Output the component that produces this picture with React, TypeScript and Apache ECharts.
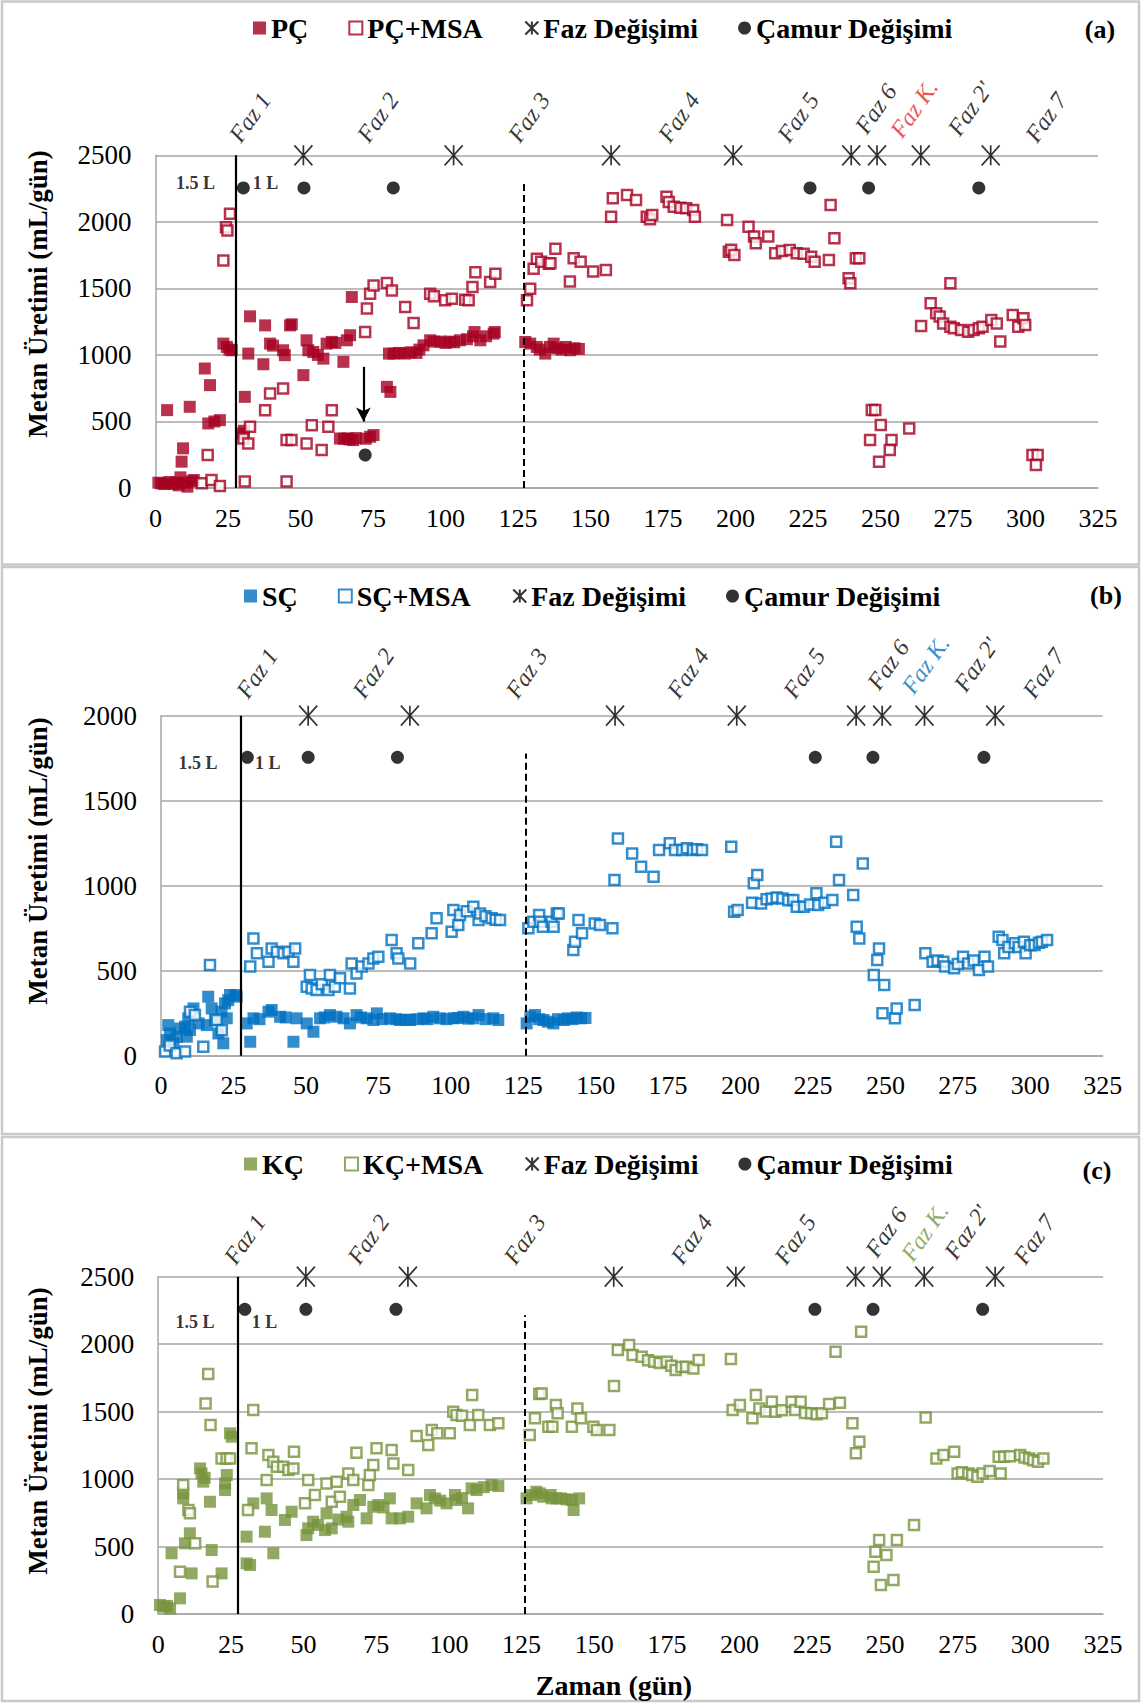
import React, { useEffect, useRef } from "react";
import * as echarts from "echarts";

type Pt = [number, number];

const FONT = "'Liberation Serif', 'Times New Roman', Times, serif";
const RED = "#A50021";
const BLUE = "#0070C0";
const GREEN = "#77933C";
const FAZ_K_RED = "#E3262B";
const GRID_GREY = "#A6A6A6";

// ---------- (a) PÇ reactor: daily methane, mL/day ----------
const pc: Pt[] = [
  [1, 40], [2, 35], [3, 30], [4, 585], [4.8, 45], [6, 30], [7, 40], [8, 20], [8.6, 80], [9, 198], [9.5, 298],
  [10.2, 40], [11, 10], [11.8, 610], [12.5, 50], [13.2, 60], [17, 898], [18.2, 485], [18.8, 773], [20.3, 500],
  [22.2, 510], [23.4, 1085], [24.6, 1060], [25.5, 1040], [26.3, 1035],
  [29.7, 410], [30.5, 430], [30.8, 685], [32, 1010], [32.6, 1290], [37.2, 930], [37.8, 1222], [39.5, 1085],
  [40.5, 1070], [44, 1035], [44.6, 998], [46.4, 1222], [47, 1230], [51, 848], [52.1, 1110], [52.7, 1035],
  [54.4, 1022], [56, 1000], [57.9, 972], [59, 1085], [60.8, 1098], [62, 1090], [64.8, 948], [66, 1110],
  [67.1, 1148], [67.7, 1435], [63.6, 372], [65, 370], [66.2, 372], [67, 365], [68.2, 360], [69.2, 375],
  [72.5, 370], [74, 385], [75.2, 398], [79.8, 760], [81, 722], [80.5, 1010], [82.1, 1010], [84, 1015],
  [86, 1010], [88, 1020], [90, 1015], [91, 1040], [92.4, 1072], [94.7, 1110], [96, 1100], [98.2, 1100],
  [100, 1090], [101.6, 1100], [103, 1095], [105, 1110], [107.4, 1118], [109.5, 1140], [110, 1172], [112, 1110],
  [114, 1140], [116.6, 1160], [117, 1172],
  [127.5, 1097], [129.2, 1085], [131.5, 1060], [132.5, 1040], [134.4, 1010], [136, 1060], [137.3, 1085],
  [138.5, 1050], [140, 1040], [141.5, 1060], [143, 1035], [144.5, 1050], [146, 1045],
];
const pcMsa: Pt[] = [
  [16, 35], [18, 248], [19.3, 60], [22.2, 15], [23.4, 1710], [24.3, 1960], [24.8, 1935], [25.7, 2060],
  [30.3, 372], [30.8, 48], [32, 335], [32.6, 460], [37.8, 585], [39.5, 710], [44, 748], [45.2, 48], [45.2, 360],
  [46.9, 360], [52.1, 335], [53.9, 472], [57.3, 285], [59.6, 460], [60.8, 585], [72.3, 1172], [72.9, 1348],
  [74, 1460], [75.2, 1522], [79.8, 1540], [81.5, 1485], [86.1, 1360], [89, 1240], [94.7, 1460], [96, 1440],
  [99.9, 1410], [102.2, 1422], [106.8, 1415], [108, 1410], [109.3, 1510], [110.3, 1622], [115.4, 1548], [117.2, 1610],
  [128.1, 1410], [129.2, 1498], [130.4, 1648], [131.5, 1722], [133, 1700], [135.6, 1685], [136.2, 1688],
  [137.9, 1798], [142.9, 1551], [144.2, 1726], [146.6, 1701], [150.9, 1626], [155.3, 1638],
  [157.1, 2039], [157.7, 2177], [162.6, 2202], [165.7, 2164], [169.4, 2039], [170.5, 2020], [171.3, 2052],
  [176.2, 2189], [177, 2150], [178.7, 2114], [181, 2105], [183, 2102], [185.4, 2089], [186, 2039],
  [197.1, 2014], [197.7, 1776], [198.5, 1790], [199.6, 1751], [204.5, 1964], [206.4, 1889], [207, 1839],
  [211.3, 1889], [213.7, 1764], [216, 1780], [218.7, 1789], [221.1, 1764], [223.5, 1760], [226.1, 1738],
  [227.3, 1701], [232.2, 1713], [232.8, 2127], [234.1, 1876], [239, 1576], [239.6, 1538], [241.5, 1726], [242.7, 1726],
  [247, 586], [248.2, 586], [250.1, 473], [246.4, 361], [253.8, 361], [253.2, 286], [249.5, 198], [259.9, 448],
  [264, 1217], [267.3, 1388], [269.2, 1313], [270.4, 1288], [271.6, 1237], [274.1, 1538], [274.1, 1212],
  [275.3, 1200], [277.8, 1187], [280.2, 1175], [282.1, 1187], [283.9, 1200], [285.2, 1212], [288.2, 1262],
  [290.1, 1237], [291.3, 1100], [295.6, 1300], [297.5, 1212], [299.3, 1275], [299.9, 1225],
  [302.4, 248], [304.2, 248], [303.6, 173],
];

// ---------- (b) SÇ reactor ----------
const sc: Pt[] = [
  [2, 92], [2.5, 180], [3.1, 131], [4.3, 73], [5.5, 110], [6.5, 160], [8.3, 171], [8.9, 112], [9.4, 220],
  [10, 151], [11.2, 278], [13, 190], [15.8, 180], [16.3, 347], [17.5, 278], [18.6, 210], [19.8, 131],
  [21.5, 73], [20.9, 259], [22.1, 308], [22.7, 220], [23.2, 327], [23.8, 357], [25.5, 357], [26.1, 347],
  [29.6, 190], [30.8, 82], [31.9, 220], [34, 215], [37.1, 259], [38.2, 269], [41.1, 229], [43, 225],
  [45.7, 82], [46.8, 220], [50.3, 190], [52.6, 141], [54.9, 220], [56.5, 225], [58.3, 239], [60.6, 229],
  [63, 220], [65.2, 190], [67.5, 239], [69, 225], [71, 220], [73.3, 210], [74.5, 249], [76.5, 215], [79, 220],
  [81, 215], [82.5, 210], [84.5, 212], [86, 210], [88.5, 215], [90.6, 220], [92, 215], [94, 229], [96.3, 220],
  [98.5, 215], [100.9, 220], [102.5, 222], [104.4, 229], [106, 218], [107.8, 220], [109.6, 239], [112, 215],
  [114.7, 220], [116.4, 210],
  [126.2, 190], [127.5, 230], [129.1, 239], [130.5, 215], [132, 210], [133.5, 200], [135.4, 190], [137, 215],
  [139, 210], [140.5, 220], [142, 215], [143.5, 225], [145, 220], [146.5, 222],
];
const scMsa: Pt[] = [
  [1.4, 24], [3, 60], [5.4, 14], [8.3, 24], [10, 259], [11.7, 239], [14.6, 53], [16.9, 533], [19.2, 210], [21, 150],
  [30.8, 524], [31.9, 690], [33.1, 602], [37.1, 553], [38.2, 631], [40, 612], [42.3, 602], [44, 612],
  [45.7, 553], [46.3, 631], [50.3, 406], [51.4, 474], [52, 396], [53.7, 386], [55.5, 420], [57.8, 386],
  [58.3, 474], [60, 406], [61.8, 455], [65.2, 396], [65.8, 543], [67.5, 484], [69.3, 524], [71.6, 543],
  [73.3, 572], [75, 582], [79.6, 680], [81.3, 602], [81.9, 572], [86, 543], [88.8, 661], [93.4, 720],
  [95.1, 808], [100.3, 729], [100.9, 857], [102.6, 769], [103.2, 827], [105.5, 850], [107.8, 876],
  [109.6, 798], [110.1, 837], [112, 820], [114.1, 808], [115.5, 800], [117, 798],
  [126.8, 749], [128.5, 788], [130.5, 827], [130.8, 788], [131.8, 759], [134.8, 788], [135.5, 759],
  [136.6, 837], [137.3, 837], [142.3, 622], [142.9, 671], [144.1, 798], [145.3, 720], [149.7, 778],
  [151.5, 769], [155.8, 749],
  [156.5, 1033], [157.7, 1278], [162.6, 1190], [165.7, 1112], [170, 1053], [171.9, 1210], [175.6, 1249],
  [177.4, 1210], [179.9, 1210], [181.5, 1220], [183.6, 1210], [185, 1215], [186.7, 1210],
  [196.8, 1229], [197.8, 847], [199, 857], [204, 900], [204.6, 1014], [205.8, 1063], [207.1, 896], [209, 920],
  [210.8, 925], [212.5, 930], [214.5, 925], [216.5, 915], [218.2, 916], [219.4, 876], [221.9, 876], [224, 890],
  [226.2, 955], [226.8, 886], [229, 900], [231.7, 916], [233, 1259], [234, 1033], [238.9, 945], [240.1, 759],
  [241, 690], [242.2, 1131],
  [247.8, 631], [247.2, 563], [246, 474], [249.6, 416], [249, 249], [253.3, 220], [253.9, 278], [260.1, 298],
  [263.8, 602], [266.3, 553], [268, 560], [270, 553], [270.6, 524], [273.7, 514], [275, 540], [276.8, 582],
  [278.6, 543], [280.5, 560], [282.3, 504], [284.2, 582], [285.4, 524], [289.1, 700], [290.4, 680], [291, 602],
  [292.5, 640], [294.7, 661], [296, 640], [297.8, 671], [298.4, 602], [300, 650], [301.5, 651], [303, 665],
  [304, 671], [305.8, 680],
];

// ---------- (c) KÇ reactor ----------
const kc: Pt[] = [
  [0.6, 67], [1.8, 54], [3, 60], [4.1, 42], [4.6, 450], [7.5, 116], [8.6, 857], [8.6, 894], [9.2, 524],
  [10.9, 598], [11.5, 301], [14.4, 1079], [14.9, 1042], [15.5, 981], [16, 1010], [17.8, 832], [18.4, 474],
  [21.8, 301], [23, 968], [23, 919], [23.6, 1030], [24.7, 1339], [25.3, 1314],
  [30.4, 375], [31.6, 363], [30.4, 573], [32.7, 820], [36.7, 610], [37.3, 857], [39, 771], [39.6, 450],
  [43.6, 697], [45.9, 758], [51, 585], [51.6, 635], [53.3, 684], [55, 660], [57.4, 622], [57.9, 746],
  [59.7, 635], [62, 700], [64.8, 721], [65.4, 684], [67.1, 808], [69.4, 845], [71.7, 709], [74, 795],
  [75.7, 808], [77.5, 790], [79.7, 857], [80.3, 709], [83.2, 709], [86, 721], [88.9, 820], [92.3, 783],
  [93.5, 882], [95.2, 857], [97, 840], [99.2, 820], [102.1, 882], [102.6, 845], [104.5, 860], [106.6, 783],
  [107.8, 931], [109.5, 919], [112, 940], [114.7, 956], [117, 948],
  [126.7, 857], [128.4, 882], [130.1, 906], [131.3, 894], [132.4, 869], [135, 882], [135.3, 857], [137, 857],
  [138.6, 857], [140.5, 850], [142.3, 845], [142.9, 771], [144.8, 857],
];
const kcMsa: Pt[] = [
  [7.5, 314], [8.6, 956], [10.4, 771], [10.9, 746], [12.7, 524], [16.3, 1561], [17.2, 1778], [18, 1400],
  [18.7, 240], [21.8, 1153], [23.5, 1153], [24.7, 1153],
  [30.9, 771], [32.1, 1228], [32.7, 1512], [37.3, 993], [37.9, 1178], [39.6, 1129], [40.8, 1092], [43, 1092],
  [44.8, 1067], [46.5, 1079], [46.7, 1203], [50.5, 820], [51.6, 993], [53.9, 882], [57.9, 968], [59.7, 832],
  [61.4, 981], [62.5, 869], [65.4, 1042], [67.1, 993], [68.2, 1195], [72.3, 956], [72.8, 1030], [74, 1104],
  [75.1, 1228], [80.3, 1215], [80.9, 1116], [86, 1067], [88.9, 1319], [92.9, 1252], [94.1, 1363], [96, 1340],
  [100.3, 1339], [101.5, 1499], [102.6, 1475], [104.5, 1470], [107.2, 1400], [108, 1623], [110.1, 1475],
  [114.1, 1400], [117, 1413],
  [127.8, 1326], [129.6, 1450], [131.1, 1630], [131.9, 1635], [134.2, 1388], [135.6, 1388], [136.8, 1549],
  [137.4, 1487], [142.3, 1388], [144.2, 1524], [145.4, 1450], [149.7, 1388], [150.9, 1363], [155.2, 1363],
  [156.8, 1690],
  [158.1, 1956], [162, 1993], [163.2, 1919], [166.3, 1907], [168.5, 1880], [170.6, 1870], [172.5, 1860],
  [174.9, 1870], [176.5, 1840], [178, 1808], [180, 1830], [181.6, 1833], [184.1, 1820], [185.9, 1882],
  [197, 1890], [197.6, 1512], [200.1, 1549], [204.4, 1450], [205.6, 1623], [206.8, 1524], [209, 1500],
  [211.1, 1573], [212.3, 1499], [214.5, 1510], [217.9, 1573], [219.1, 1512], [221, 1573], [222.5, 1490],
  [224.6, 1487], [226.5, 1480], [228.3, 1487], [230.8, 1556], [233, 1944], [234.5, 1566], [238.8, 1413],
  [240, 1191], [241.2, 1277], [241.8, 2092],
  [248, 548], [254.1, 548], [246.7, 462], [250.5, 437], [246.1, 351], [252.9, 252], [248.6, 215], [260, 660],
  [264, 1457], [267.7, 1153], [270.1, 1178], [273.8, 1203], [275, 1042], [276.5, 1050], [278.7, 1042],
  [280, 1030], [281.8, 1018], [283.6, 1042], [286, 1060], [289.1, 1166], [289.8, 1042], [291, 1166],
  [293, 1170], [296.5, 1178], [298, 1160], [299.6, 1153], [301, 1140], [302.6, 1129], [304.5, 1153],
];

// ---------- events ----------
const phaseChangeDaysA = [51, 102.8, 157.1, 199.2, 239.9, 248.8, 263.9, 288];
const phaseChangeDaysBC = [50.8, 85.9, 156.7, 198.7, 239.9, 248.9, 263.5, 287.9];
const sludgeChangeDaysA = [30.3, 51.2, 82, 225.7, 245.9, 283.9];
const sludgeChangeDaysB = [29.8, 50.8, 81.6, 225.8, 245.7, 284];
const sludgeChangeDaysC = [29.8, 50.8, 81.8, 225.9, 245.9, 283.6];
const sludgeExtraA: Pt = [72.3, 248];
const volumeSwitchDay = 27.5;

const phaseNames = ["Faz 1", "Faz 2", "Faz 3", "Faz 4", "Faz 5", "Faz 6", "Faz K.", "Faz 2'", "Faz 7"];

// anchor days of the rotated phase captions above each plot
const captionDaysA = [32.6, 76.7, 128.8, 180.5, 221.6, 248.4, 261.6, 280.9, 307.1];
const captionDaysB = [33.2, 73.3, 126.2, 181.9, 222, 251, 263.9, 281.4, 304.6];
const captionDaysC = [29.8, 72.3, 126.1, 183.5, 219.1, 250.4, 263.7, 278.1, 301.4];

const STAR = "path://M0 0L20 20M20 0L0 20M10 0L10 20";

interface Panel {
  grid: { left: number; top: number; width: number; height: number };
  yMax: number;
  filled: Pt[];
  hollow: Pt[];
  color: string;
  fazK: string;
  names: [string, string];
  stars: number[];
  dots: number[];
  dotLevel: number;
  dashedDay: number;
  dashedTop: number;
  captionDays: number[];
  captionLevel: number;
  captionLevelHigh: number;
  litreLevel: number;
  litreDays: [number, number];
  legendLeft: number;
  legendTop: number;
  tag: { text: string; x: number; y: number };
  yTitleY: number;
  box: { y: number; h: number };
}

const panels: Panel[] = [
  {
    grid: { left: 155.5, top: 155.3, width: 942.5, height: 332.7 },
    yMax: 2500, filled: pc, hollow: pcMsa, color: RED, fazK: FAZ_K_RED, names: ["PÇ", "PÇ+MSA"],
    stars: phaseChangeDaysA, dots: sludgeChangeDaysA, dotLevel: 2255, dashedDay: 127, dashedTop: 2285,
    captionDays: captionDaysA, captionLevel: 2785, captionLevelHigh: 2850,
    litreLevel: 2290, litreDays: [13.8, 37.9],
    legendLeft: 248, legendTop: 9, tag: { text: "(a)", x: 1100, y: 29 }, yTitleY: 294, box: { y: 1.5, h: 563 },
  },
  {
    grid: { left: 161, top: 715.7, width: 941.7, height: 340 },
    yMax: 2000, filled: sc, hollow: scMsa, color: BLUE, fazK: BLUE, names: ["SÇ", "SÇ+MSA"],
    stars: phaseChangeDaysBC, dots: sludgeChangeDaysB, dotLevel: 1755, dashedDay: 125.8, dashedTop: 1778,
    captionDays: captionDaysB, captionLevel: 2250, captionLevelHigh: 2300,
    litreLevel: 1722, litreDays: [12.8, 36.8],
    legendLeft: 239, legendTop: 577, tag: { text: "(b)", x: 1106, y: 595 }, yTitleY: 861, box: { y: 567, h: 567 },
  },
  {
    grid: { left: 158.2, top: 1276.7, width: 944.8, height: 337.3 },
    yMax: 2500, filled: kc, hollow: kcMsa, color: GREEN, fazK: GREEN, names: ["KÇ", "KÇ+MSA"],
    stars: phaseChangeDaysBC, dots: sludgeChangeDaysC, dotLevel: 2258, dashedDay: 126.1, dashedTop: 2215,
    captionDays: captionDaysC, captionLevel: 2777, captionLevelHigh: 2830,
    litreLevel: 2164, litreDays: [12.7, 36.6],
    legendLeft: 239, legendTop: 1145, tag: { text: "(c)", x: 1097, y: 1170 }, yTitleY: 1431, box: { y: 1137, h: 564 },
  },
];

function buildOption() {
  const grid: any[] = [];
  const xAxis: any[] = [];
  const yAxis: any[] = [];
  const series: any[] = [];
  const legend: any[] = [];
  const graphic: any[] = [];

  panels.forEach((p, i) => {
    grid.push({ ...p.grid, containLabel: false });
    xAxis.push({
      type: "value", gridIndex: i, min: 0, max: 325, interval: 25,
      axisLine: { show: true, lineStyle: { color: GRID_GREY, width: 1.5 } },
      axisTick: { show: false }, splitLine: { show: false },
      axisLabel: { fontFamily: FONT, fontSize: 26, color: "#000", margin: 17, formatter: (v: number) => String(v) },
    });
    yAxis.push({
      type: "value", gridIndex: i, min: 0, max: p.yMax, interval: 500,
      axisLine: { show: true, lineStyle: { color: GRID_GREY, width: 1.5 } },
      axisTick: { show: false },
      splitLine: { show: true, lineStyle: { color: GRID_GREY, width: 1.5 } },
      axisLabel: { fontFamily: FONT, fontSize: 27, color: "#000", margin: 24, formatter: (v: number) => String(v) },
    });

    series.push({
      type: "scatter", name: p.names[0], xAxisIndex: i, yAxisIndex: i, data: p.filled,
      symbol: "rect", symbolSize: 12, itemStyle: { color: p.color }, clip: false, z: 2,
      markLine: {
        silent: true, symbol: "none", label: { show: false },
        lineStyle: { color: "#000", width: 2.2, type: "solid" },
        data: [
          { xAxis: volumeSwitchDay },
          [
            { coord: [p.dashedDay, 0], lineStyle: { color: "#000", width: 2, type: [7, 4] } },
            { coord: [p.dashedDay, p.dashedTop] },
          ],
        ],
      },
    });
    series.push({
      type: "scatter", name: p.names[1], xAxisIndex: i, yAxisIndex: i, data: p.hollow,
      symbol: "rect", symbolSize: 10,
      itemStyle: { color: "#ffffff", borderColor: p.color, borderWidth: 2.5 }, clip: false, z: 3,
    });
    series.push({
      type: "scatter", name: "Faz Değişimi", xAxisIndex: i, yAxisIndex: i,
      data: p.stars.map((d) => [d, p.yMax]),
      symbol: STAR, symbolSize: [18, 20],
      itemStyle: { color: "none", borderColor: "#000", borderWidth: 1.8 }, clip: false, z: 4,
    });
    const dotData: Pt[] = p.dots.map((d) => [d, p.dotLevel] as Pt);
    if (i === 0) dotData.push(sludgeExtraA);
    series.push({
      type: "scatter", name: "Çamur Değişimi", xAxisIndex: i, yAxisIndex: i, data: dotData,
      symbol: "circle", symbolSize: 13, itemStyle: { color: "#000" }, clip: false, z: 5,
      markLine: i === 0 ? {
        silent: true, symbol: ["none", "arrow"], symbolSize: [11, 14], label: { show: false },
        lineStyle: { color: "#000", width: 2.2, type: "solid" },
        data: [[{ coord: [71.7, 910] }, { coord: [71.7, 500] }]],
      } : undefined,
    });

    // rotated phase captions and reactor-volume notes
    const captions = phaseNames.map((name, k) => ({
      name,
      value: [p.captionDays[k], k >= 5 && k <= 7 ? p.captionLevelHigh : p.captionLevel],
      label: { color: name === "Faz K." ? p.fazK : "#000" },
    }));
    series.push({
      type: "scatter", name: "captions", xAxisIndex: i, yAxisIndex: i, data: captions,
      symbolSize: 1, itemStyle: { color: "transparent" }, clip: false, silent: true, z: 6,
      label: {
        show: true, position: "inside", formatter: "{b}", rotate: 55,
        fontFamily: FONT, fontStyle: "italic", fontSize: 24, align: "center", verticalAlign: "middle",
      },
    });
    series.push({
      type: "scatter", name: "notes", xAxisIndex: i, yAxisIndex: i,
      data: [
        { name: "1.5 L", value: [p.litreDays[0], p.litreLevel] },
        { name: "1 L", value: [p.litreDays[1], p.litreLevel] },
      ],
      symbolSize: 1, itemStyle: { color: "transparent" }, clip: false, silent: true, z: 6,
      label: {
        show: true, position: "inside", formatter: "{b}", color: "#000",
        fontFamily: FONT, fontWeight: "bold", fontSize: 18, align: "center", verticalAlign: "middle",
      },
    });

    legend.push({
      left: p.legendLeft, top: p.legendTop, itemGap: 40, itemWidth: 13, itemHeight: 13,
      selectedMode: false,
      textStyle: { fontFamily: FONT, fontWeight: "bold", fontSize: 28, color: "#000" },
      data: [p.names[0], p.names[1], "Faz Değişimi", "Çamur Değişimi"],
    });

    graphic.push({
      type: "rect", silent: true,
      shape: { x: 2, y: p.box.y, width: 1137, height: p.box.h },
      style: { fill: "none", stroke: "#C9C9C9", lineWidth: 2.5 },
    });
    graphic.push({
      type: "text", silent: true, x: 38, y: p.yTitleY, rotation: Math.PI / 2,
      style: {
        text: "Metan Üretimi (mL/gün)", font: `bold 27px ${FONT}`, fill: "#000",
        align: "center", verticalAlign: "middle",
      },
    });
    graphic.push({
      type: "text", silent: true, x: p.tag.x, y: p.tag.y,
      style: { text: p.tag.text, font: `bold 26px ${FONT}`, fill: "#000", align: "center", verticalAlign: "middle" },
    });
  });

  graphic.push({
    type: "text", silent: true, x: 614, y: 1685,
    style: { text: "Zaman (gün)", font: `bold 28px ${FONT}`, fill: "#000", align: "center", verticalAlign: "middle" },
  });

  return {
    animation: false,
    backgroundColor: "#ffffff",
    textStyle: { fontFamily: FONT },
    grid, xAxis, yAxis, series, legend, graphic,
  };
}

export default function App() {
  const ref = useRef<HTMLDivElement>(null);
  useEffect(() => {
    document.body.style.margin = "0";
    if (!ref.current) return;
    const chart = echarts.init(ref.current, null, { renderer: "svg" });
    chart.setOption(buildOption() as any);
    return () => chart.dispose();
  }, []);
  return <div ref={ref} style={{ width: 1144, height: 1704 }} />;
}
